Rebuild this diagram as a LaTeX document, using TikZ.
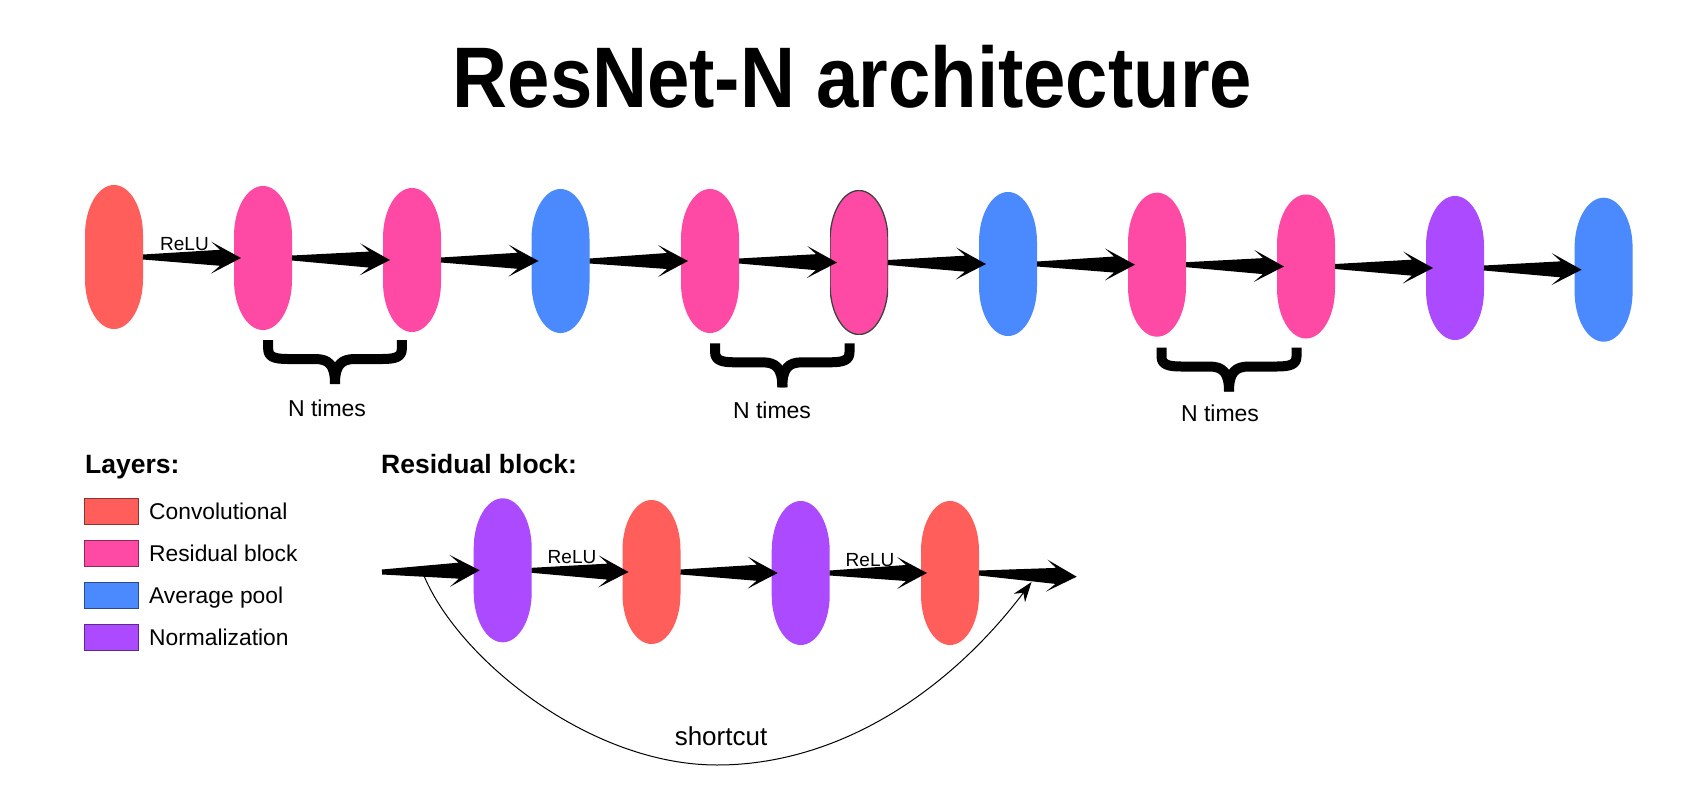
\documentclass[tikz,border=0pt]{standalone}
\usepackage{fontspec}
\setmainfont{Liberation Sans}
\usetikzlibrary{calc,arrows.meta}

\definecolor{cconv}{HTML}{FF5E5B}
\definecolor{cres}{HTML}{FF4AA5}
\definecolor{cpool}{HTML}{4B89FE}
\definecolor{cnorm}{HTML}{AB4AFE}

\newcommand\fsz[1]{\fontsize{#1pt}{#1pt}\selectfont}

\tikzset{
  blobshape/.style={minimum width=58pt, minimum height=144pt, inner sep=0pt, outer sep=0pt,
    path picture={\fill[#1] (path picture bounding box.center) ++(-29pt,-22pt) -- ++(0pt,44pt)
      arc[start angle=180,end angle=0,x radius=29pt,y radius=50pt] -- ++(0pt,-44pt)
      arc[start angle=0,end angle=-180,x radius=29pt,y radius=50pt] -- cycle;}},
  blob/.style={blobshape={#1}},
  blobo/.style={blobshape={fill=#1,draw=black!75,line width=1.3pt}},
  relu/.style={anchor=base, inner sep=0pt, font=\fsz{19}},
  ntimes/.style={anchor=base, inner sep=0pt, font=\fsz{23}},
  heading/.style={anchor=base west, inner sep=0pt, font=\bfseries\fsz{26.5}},
  legbox/.style={minimum width=54pt, minimum height=26pt, inner sep=0pt, fill=#1, draw=#1!55!black, line width=1pt},
  leglabel/.style={anchor=base west, inner sep=0pt, font=\fsz{22.8}},
  bracestyle/.style={line width=10pt, line cap=butt, line join=round},
  shortline/.style={line width=1pt, -{Stealth[length=20pt,width=14pt]}},
}

% fat tapered arrow between two named points
\newcommand\fatarrow[2]{%
  \fill let \p1=(#1), \p2=(#2), \n1={atan2(\y2-\y1,\x2-\x1)}, \n2={veclen(\x2-\x1,\y2-\y1)} in
  {[shift={(\p1)}, rotate=\n1]
   (0,-2.5) -- ({\n2-21},-8) -- ({\n2-30},-16) -- ({\n2},0) -- ({\n2-30},16) -- ({\n2-21},8) -- (0,2.5) -- cycle};}

% thick curly brace: x1, x2, ytop
\newcommand\nbrace[3]{%
  \draw[bracestyle] ({#1+5.5},#3) -- ({#1+5.5},{#3+9})
     .. controls ({#1+5.5},{#3+17}) and ({#1+12},{#3+19}) .. ({#1+25},{#3+19})
     -- ({(#1+#2)/2-20},{#3+19})
     .. controls ({(#1+#2)/2-6},{#3+19}) and ({(#1+#2)/2},{#3+25}) .. ({(#1+#2)/2},{#3+44});
  \draw[bracestyle] ({#2-5.5},#3) -- ({#2-5.5},{#3+9})
     .. controls ({#2-5.5},{#3+17}) and ({#2-12},{#3+19}) .. ({#2-25},{#3+19})
     -- ({(#1+#2)/2+20},{#3+19})
     .. controls ({(#1+#2)/2+6},{#3+19}) and ({(#1+#2)/2},{#3+25}) .. ({(#1+#2)/2},{#3+44});}

\begin{document}
\begin{tikzpicture}[x=1pt,y=-1pt]
\fill[white] (0,0) rectangle (1700,800);
\useasboundingbox (0,0) rectangle (1700,800);

% title
\node[anchor=base, inner sep=0pt, font=\bfseries\fsz{86}, xscale=0.885, transform shape] (title) at (852.5,107) {ResNet-N architecture};

% top row
\node[blob=cconv] (b1) at (114,257) {};
\node[blob=cres]  (b2) at (263,258) {};
\node[blob=cres]  (b3) at (412,260) {};
\node[blob=cpool] (b4) at (560.5,261) {};
\node[blob=cres]  (b5) at (710,261) {};
\node[blobo=cres] (b6) at (859,262.5) {};
\node[blob=cpool] (b7) at (1008,264) {};
\node[blob=cres]  (b8) at (1157,264.7) {};
\node[blob=cres]  (b9) at (1306,266.5) {};
\node[blob=cnorm] (b10) at (1455,268) {};
\node[blob=cpool] (b11) at (1603.6,269.7) {};

\fatarrow{b1.east}{$(b2.west)+(7,0)$}
\fatarrow{b2.east}{$(b3.west)+(7,0)$}
\fatarrow{b3.east}{$(b4.west)+(7,0)$}
\fatarrow{b4.east}{$(b5.west)+(7,0)$}
\fatarrow{b5.east}{$(b6.west)+(7,0)$}
\fatarrow{b6.east}{$(b7.west)+(7,0)$}
\fatarrow{b7.east}{$(b8.west)+(7,0)$}
\fatarrow{b8.east}{$(b9.west)+(7,0)$}
\fatarrow{b9.east}{$(b10.west)+(7,0)$}
\fatarrow{b10.east}{$(b11.west)+(7,0)$}

\node[relu] (relu0) at (184.5,250) {ReLU};

% braces
\nbrace{262.7}{407.3}{340}
\nbrace{709.6}{855}{343.3}
\nbrace{1156}{1302}{347.5}
\node[ntimes] (nt1) at (327,416) {N times};
\node[ntimes] (nt2) at (772,418.5) {N times};
\node[ntimes] (nt3) at (1220,421) {N times};

% legend
\node[heading] (layers) at (85,473) {Layers:};
\node[legbox=cconv] (l1) at (111,511) {};
\node[legbox=cres]  (l2) at (111,553) {};
\node[legbox=cpool] (l3) at (111,595) {};
\node[legbox=cnorm] (l4) at (111,637) {};
\node[leglabel] (t1) at (149,519) {Convolutional};
\node[leglabel] (t2) at (149,561) {Residual block};
\node[leglabel] (t3) at (149,603) {Average pool};
\node[leglabel] (t4) at (149,645) {Normalization};

% residual block
\node[heading] (rbh) at (381,473) {Residual block:};
\node[blob=cnorm] (r1) at (502.7,570.3) {};
\node[blob=cconv] (r2) at (651.5,572) {};
\node[blob=cnorm] (r3) at (800.7,573) {};
\node[blob=cconv] (r4) at (950,573) {};
\coordinate (rin) at (382,572);
\coordinate (rout) at (1076.7,576.7);
\coordinate (sc) at (424.5,577);
\coordinate (scmid) at (717,765);
\coordinate (sce) at (1031.5,582);

\fatarrow{rin}{$(r1.west)+(6,0)$}
\fatarrow{r1.east}{$(r2.west)+(6,0)$}
\fatarrow{r2.east}{$(r3.west)+(6,0)$}
\fatarrow{r3.east}{$(r4.west)+(6,0)$}
\fatarrow{r4.east}{rout}
\node[relu] (relu1) at (572,563) {ReLU};
\node[relu] (relu2) at (870,566.5) {ReLU};

\draw[shortline] (sc) .. controls (460,660) and (590,765) .. (scmid)
   .. controls (840,765) and (950,690) .. (sce);
\node[anchor=base, inner sep=0pt, font=\fsz{26}] (sclabel) at (721,745) {shortcut};
\end{tikzpicture}
\end{document}
